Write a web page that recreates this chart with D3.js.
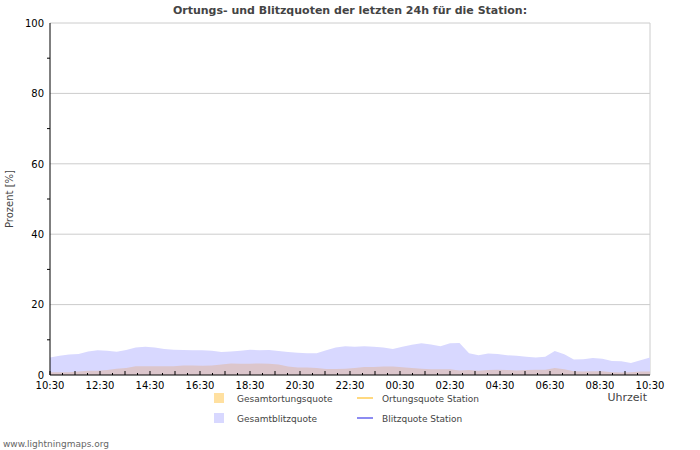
<!DOCTYPE html><html><head><meta charset="utf-8"><script src="https://d3js.org/d3.v7.min.js"></script>
<style>body{margin:0;background:#fff;font-family:"DejaVu Sans",sans-serif}</style></head><body><svg id="c" width="700" height="450"></svg>
<script>
const tickLabels=["10:30","12:30","14:30","16:30","18:30","20:30","22:30","00:30","02:30","04:30","06:30","08:30","10:30"];
const blitz=[5,5.5,5.8,6,6.7,7,6.9,6.6,7.1,7.8,8,7.8,7.4,7.2,7.1,7,7,6.9,6.5,6.7,6.9,7.2,7,7.1,6.8,6.5,6.3,6.2,6.2,7,7.8,8.2,8,8.2,8,7.8,7.4,8,8.6,9,8.7,8.2,9,9.1,6.2,5.6,6.1,6,5.6,5.5,5.2,5,5.2,6.8,5.9,4.4,4.5,4.8,4.6,4,3.9,3.4,4.2,5];
const ortung=[0.8,0.8,0.8,1,1.2,1.2,1.4,1.8,2,2.5,2.5,2.5,2.5,2.5,2.7,2.7,2.6,2.7,3,3.3,3.2,3.2,3.3,3.2,3,2.4,2.1,2.1,2,1.7,1.7,1.8,2,2.3,2.3,2.4,2.4,2.2,2,1.8,1.6,1.6,1.6,1.3,1.4,1.2,1.4,1.5,1.4,1.3,1.4,1.5,1.5,2,1.6,1.1,1,1.1,1.1,0.8,0.7,0.8,1,1];
const yTicks=[0,20,40,60,80,100];
const svg=d3.select("#c");
const L=50,R=650,T=23,B=375;
const x=d3.scaleLinear().domain([0,24]).range([L,R]);
const y=d3.scaleLinear().domain([0,100]).range([B,T]);
const xb=d3.scaleLinear().domain([0,blitz.length-1]).range([L,R]);
svg.append("g").selectAll("line").data(yTicks.slice(1)).join("line").attr("x1",L).attr("x2",R).attr("y1",d=>y(d)).attr("y2",d=>y(d)).attr("stroke","#ccc");
svg.append("line").attr("x1",R).attr("x2",R).attr("y1",T).attr("y2",B).attr("stroke","#ccc");
const area=d3.area().x((d,i)=>xb(i)).y0(y(0)).y1(d=>y(d));
svg.append("path").datum(blitz).attr("d",area).attr("fill","#d8d8ff");
svg.append("path").datum(ortung).attr("d",area).attr("fill","#dcc6cc");
// axes
svg.append("line").attr("x1",L).attr("x2",L).attr("y1",T).attr("y2",B).attr("stroke","#000");
svg.append("line").attr("x1",L).attr("x2",R).attr("y1",B).attr("y2",B).attr("stroke","#000");
const ya=svg.append("g").attr("transform",`translate(${L},0)`).call(d3.axisLeft(y).tickValues(yTicks).tickSize(0).tickPadding(6));
ya.select(".domain").remove();ya.selectAll("text").attr("font-size",10).attr("font-family","DejaVu Sans");
svg.append("g").selectAll("line").data(d3.range(10,100,20)).join("line").attr("x1",L-3).attr("x2",L).attr("y1",d=>y(d)).attr("y2",d=>y(d)).attr("stroke","#000");
svg.append("g").selectAll("line").data(d3.range(0,48)).join("line").attr("x1",d=>x(d/2)).attr("x2",d=>x(d/2)).attr("y1",B).attr("y2",d=>B-(d%2==0?4:2)).attr("stroke","#000");
svg.append("g").selectAll("text").data(tickLabels).join("text").attr("x",(d,i)=>x(i*2)).attr("y",B+14).attr("text-anchor","middle").attr("font-size",10).text(d=>d);
svg.append("text").attr("x",350).attr("y",14).attr("text-anchor","middle").attr("font-size",11).attr("font-weight","bold").attr("fill","#444").text("Ortungs- und Blitzquoten der letzten 24h für die Station:");
svg.append("text").attr("transform","translate(13,199) rotate(-90)").attr("text-anchor","middle").attr("font-size",10).attr("fill","#444").text("Prozent   [%]");
svg.append("text").attr("x",647).attr("y",401).attr("text-anchor","end").attr("font-size",11).attr("fill","#444").text("Uhrzeit");
svg.append("text").attr("x",3).attr("y",447).attr("font-size",9).attr("fill","#666").text("www.lightningmaps.org");
const leg=svg.append("g").attr("font-size",9).attr("fill","#444");
leg.append("rect").attr("x",214).attr("y",393).attr("width",10).attr("height",10).attr("fill","#ffe0a0");
leg.append("text").attr("x",237).attr("y",402).text("Gesamtortungsquote");
leg.append("rect").attr("x",214).attr("y",413).attr("width",10).attr("height",10).attr("fill","#d8d8ff");
leg.append("text").attr("x",237).attr("y",422).text("Gesamtblitzquote");
leg.append("line").attr("x1",357).attr("x2",373).attr("y1",398).attr("y2",398).attr("stroke","#ffcc55").attr("stroke-width",1.5);
leg.append("text").attr("x",382).attr("y",402).text("Ortungsquote Station");
leg.append("line").attr("x1",357).attr("x2",373).attr("y1",418).attr("y2",418).attr("stroke","#6666ee").attr("stroke-width",1.5);
leg.append("text").attr("x",382).attr("y",422).text("Blitzquote Station");
</script></body></html>
